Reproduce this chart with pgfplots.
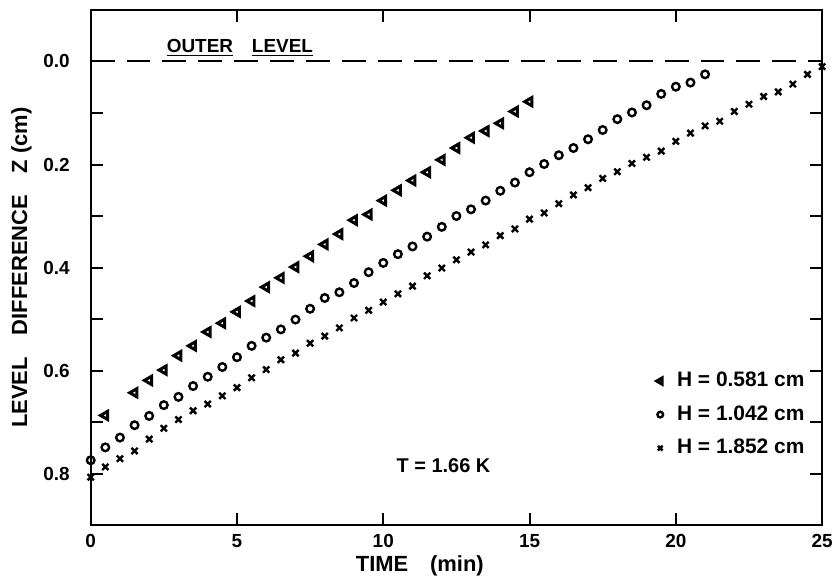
\documentclass[border=0pt]{standalone}
\usepackage{fontspec}
\setmainfont{Liberation Sans}
\usepackage{pgfplots}
\pgfplotsset{compat=1.18}
\usepackage{pgfplotstable}

% level difference Z (cm) vs time (min), T = 1.66 K
\pgfplotstableread{
t z
0.5 0.687
1.5 0.643
2.0 0.619
2.5 0.599
3.0 0.571
3.5 0.552
4.0 0.525
4.5 0.508
5.0 0.486
5.5 0.465
6.0 0.438
6.5 0.420
7.0 0.399
7.5 0.378
8.0 0.355
8.5 0.335
9.0 0.308
9.5 0.297
10.0 0.270
10.5 0.250
11.0 0.231
11.5 0.215
12.0 0.191
12.5 0.168
13.0 0.148
13.5 0.135
14.0 0.120
14.5 0.097
15.0 0.078
}\hA

\pgfplotstableread{
t z
0.0 0.774
0.5 0.749
1.0 0.730
1.5 0.706
2.0 0.688
2.5 0.667
3.0 0.651
3.5 0.630
4.0 0.612
4.5 0.593
5.0 0.574
5.5 0.552
6.0 0.536
6.5 0.520
7.0 0.501
7.5 0.480
8.0 0.459
8.5 0.448
9.0 0.430
9.5 0.409
10.0 0.391
10.5 0.374
11.0 0.359
11.5 0.340
12.0 0.321
12.5 0.300
13.0 0.287
13.5 0.270
14.0 0.251
14.5 0.235
15.0 0.215
15.5 0.199
16.0 0.182
16.5 0.168
17.0 0.151
17.5 0.133
18.0 0.112
18.5 0.099
19.0 0.085
19.5 0.063
20.0 0.049
20.5 0.041
21.0 0.025
}\hB

\pgfplotstableread{
t z
0.0 0.807
0.5 0.787
1.0 0.771
1.5 0.756
2.0 0.733
2.5 0.712
3.0 0.695
3.5 0.678
4.0 0.665
4.5 0.649
5.0 0.633
5.5 0.614
6.0 0.598
6.5 0.579
7.0 0.566
7.5 0.547
8.0 0.533
8.5 0.517
9.0 0.498
9.5 0.483
10.0 0.467
10.5 0.451
11.0 0.436
11.5 0.416
12.0 0.401
12.5 0.385
13.0 0.370
13.5 0.356
14.0 0.338
14.5 0.325
15.0 0.306
15.5 0.294
16.0 0.276
16.5 0.259
17.0 0.245
17.5 0.227
18.0 0.214
18.5 0.198
19.0 0.186
19.5 0.174
20.0 0.155
20.5 0.139
21.0 0.125
21.5 0.116
22.0 0.097
22.5 0.083
23.0 0.068
23.5 0.059
24.0 0.044
24.5 0.025
25.0 0.010
}\hC

\begin{document}
\begin{tikzpicture}
\begin{axis}[
    scale only axis,
    width=367pt, height=258.5pt,
    xmin=0, xmax=25,
    ymin=-0.1, ymax=0.9,
    y dir=reverse,
    xtick={0,5,10,15,20,25},
    ytick={0,0.2,0.4,0.6,0.8},
    minor ytick={0.1,0.3,0.5,0.7},
    tick align=inside,
    major tick length=6pt,
    minor tick length=6pt,
    every tick/.style={black, line width=1pt},
    axis line style={line width=1.1pt},
    /pgf/number format/assume math mode=true,
    ticklabel style={font=\fontsize{9.5}{11}\selectfont\bfseries},
    yticklabel style={/pgf/number format/fixed, /pgf/number format/fixed zerofill,
        /pgf/number format/precision=1, xshift=-7pt},
    xticklabel style={yshift=-1pt},
    xlabel={TIME\quad(min)},
    ylabel={LEVEL\quad DIFFERENCE\quad Z (cm)},
    label style={font=\fontsize{11}{13}\selectfont\bfseries},
    xlabel style={at={(axis description cs:0.45,0)}, anchor=north, yshift=-12pt},
    ylabel style={yshift=-1pt},
    clip=false,
    legend style={at={(axis description cs:0.99,0.313)}, anchor=north east,
        draw=none, fill=none, font=\fontsize{10.5}{12}\selectfont\bfseries,
        row sep=4pt},
    legend image post style={scale=0.75},
    legend cell align=left,
]
\coordinate (bbSW) at (axis description cs:-0.124,-0.1064);
\coordinate (bbNE) at (axis description cs:1.0135,1.0193);
\addplot[forget plot, black, line width=1pt, dash pattern=on 12pt off 6pt] coordinates {(0,0) (25,0)};
\addplot[only marks, mark=triangle, mark size=2.4pt, mark options={rotate=90, line width=1.5pt, black}] table[x=t, y=z] {\hA};
\addplot[only marks, mark=o, mark size=1.9pt, mark options={line width=1.2pt, black}] table[x=t, y=z] {\hB};
\addplot[only marks, mark=x, mark size=2.2pt, mark options={line width=1.2pt, black}] table[x=t, y=z] {\hC};
\legend{\hspace{5pt}H = 0.581 cm, \hspace{5pt}H = 1.042 cm, \hspace{5pt}H = 1.852 cm}
\node[font=\fontsize{9.5}{11}\selectfont\bfseries, anchor=base] at (axis cs:5.1,-0.018) {\underline{OUTER}\quad\underline{LEVEL}};
\node[font=\fontsize{10}{12}\selectfont\bfseries] at (axis cs:12.06,0.785) {T = 1.66 K};
\end{axis}
\pgfresetboundingbox
\path[use as bounding box] (bbSW) rectangle (bbNE);
\end{tikzpicture}
\end{document}
